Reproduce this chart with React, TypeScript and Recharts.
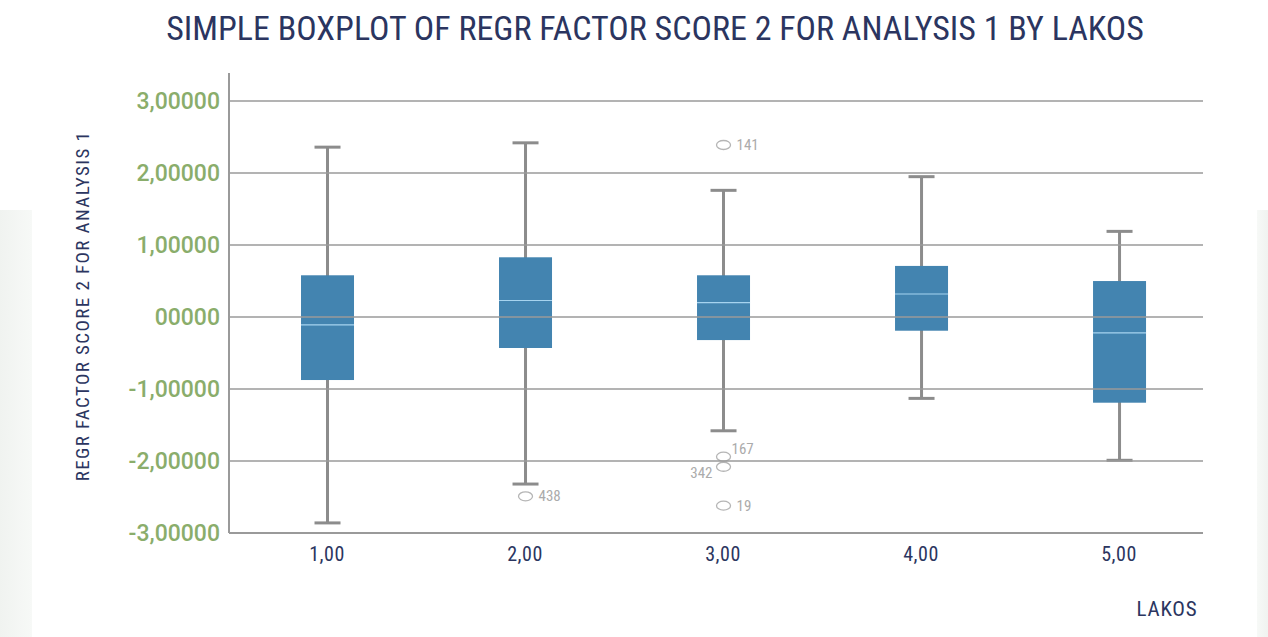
import { ComposedChart, Bar, XAxis, YAxis, ReferenceLine } from 'recharts';

const lakos = [1, 2, 3, 4, 5];
const whiskerLow = [-2.86, -2.32, -1.58, -1.13, -1.99];
const lowerQuartile = [-0.875, -0.43, -0.32, -0.19, -1.19];
const medians = [-0.11, 0.23, 0.2, 0.32, -0.22];
const upperQuartile = [0.58, 0.83, 0.58, 0.71, 0.5];
const whiskerHigh = [2.36, 2.42, 1.76, 1.95, 1.19];

// outliers: category index, value, case id, label placement
const outlierCat = [1, 2, 2, 2, 2];
const outlierValues = [-2.49, 2.39, -1.94, -2.08, -2.62];
const outlierIds = ['438', '141', '167', '342', '19'];
const outlierPlace = ['right', 'right', 'upRight', 'downLeft', 'right'];

const yTicks = [-3, -2, -1, 0, 1, 2, 3];

const FONT = "'Roboto Condensed', 'Liberation Sans Narrow', 'DejaVu Sans Condensed', Roboto, sans-serif";
const TICK_FONT = "Roboto, 'Open Sans', sans-serif";
const NAVY = '#2b3560';
const GRID = '#9a9a9a';

const data = lakos.map((x, i) => ({
  x,
  range: [whiskerLow[i], whiskerHigh[i]],
  low: whiskerLow[i],
  q1: lowerQuartile[i],
  med: medians[i],
  q3: upperQuartile[i],
  high: whiskerHigh[i],
  outliers: outlierValues
    .map((v, j) => ({ v, id: outlierIds[j], place: outlierPlace[j], c: outlierCat[j] }))
    .filter((o) => o.c === i),
}));

// draws the whole box from the range bar geometry
const BoxShape = (props: any) => {
  const { x, y, width, height, payload } = props;
  const ppu = height / (payload.high - payload.low);
  const toY = (v: number) => y + (payload.high - v) * ppu;
  const cx = x + width / 2;
  const boxW = 53;
  const capW = 26;
  return (
    <g>
      <line x1={cx} x2={cx} y1={toY(payload.high)} y2={toY(payload.low)} stroke="#8c8c8c" strokeWidth={3} />
      <line x1={cx - capW / 2} x2={cx + capW / 2} y1={toY(payload.high)} y2={toY(payload.high)} stroke="#8c8c8c" strokeWidth={3} />
      <line x1={cx - capW / 2} x2={cx + capW / 2} y1={toY(payload.low)} y2={toY(payload.low)} stroke="#8c8c8c" strokeWidth={3} />
      <rect x={cx - boxW / 2} y={toY(payload.q3)} width={boxW} height={toY(payload.q1) - toY(payload.q3)} fill="#4384b0" />
      <line x1={cx - boxW / 2} x2={cx + boxW / 2} y1={toY(payload.med)} y2={toY(payload.med)} stroke="#a6d3ef" strokeWidth={1.2} />
      {payload.outliers.map((o: any) => {
        const oy = toY(o.v);
        let tx = cx + 13;
        let ty = oy + 5;
        let anchor = 'start';
        if (o.place === 'upRight') { tx = cx + 8; ty = oy - 3; }
        if (o.place === 'downLeft') { tx = cx - 11; ty = oy + 11; anchor = 'end'; }
        return (
          <g key={o.id}>
            <ellipse cx={cx} cy={oy} rx={7} ry={4.5} fill="#fff" stroke="#b5b5b5" strokeWidth={1.3} />
            <text x={tx} y={ty} textAnchor={anchor} fontSize={15} fill="#ababab" fontFamily={FONT}>
              {o.id}
            </text>
          </g>
        );
      })}
    </g>
  );
};

const fmtY = (v: number) => (v === 0 ? '00000' : v.toFixed(5).replace('.', ','));
const fmtX = (v: number) => v.toFixed(2).replace('.', ',');

export default function App() {
  return (
    <div style={{ position: 'absolute', left: 0, top: 0, width: 1268, height: 637, background: '#fff', overflow: 'hidden', fontFamily: FONT }}>
      <div style={{ position: 'absolute', left: 0, top: 210, width: 32, height: 427, background: 'linear-gradient(to right, #f0f3f0, #f7f9f7)' }} />
      <div style={{ position: 'absolute', left: 1257, top: 210, width: 11, height: 427, background: 'linear-gradient(to right, #f7f9f7, #f0f3f0)' }} />
      <div style={{ position: 'absolute', left: 0, top: 8, width: 1310, textAlign: 'center', fontSize: 34, color: NAVY, whiteSpace: 'nowrap' }}>
        SIMPLE BOXPLOT OF REGR FACTOR SCORE 2 FOR ANALYSIS 1 BY LAKOS
      </div>
      <div
        style={{
          position: 'absolute', left: 82, top: 306, fontSize: 19, letterSpacing: 1.4, color: NAVY, whiteSpace: 'nowrap',
          transform: 'translate(-50%, -50%) rotate(-90deg)',
        }}
      >
        REGR FACTOR SCORE 2 FOR ANALYSIS 1
      </div>
      <div style={{ position: 'absolute', left: 1167, top: 609, fontSize: 21, letterSpacing: 0.8, color: NAVY, transform: 'translate(-50%, -50%)' }}>
        LAKOS
      </div>
      <div style={{ position: 'absolute', left: 0, top: 0 }}>
        <ComposedChart width={1268} height={637} data={data} margin={{ top: 73, right: 65, bottom: 74, left: 0 }}>
          {yTicks.map((t) => (
            <ReferenceLine key={t} y={t} stroke={GRID} strokeWidth={1.5} ifOverflow="extendDomain" />
          ))}
          <XAxis
            dataKey="x"
            type="number"
            domain={[0.505, 5.424]}
            ticks={lakos}
            allowDataOverflow
            tickFormatter={fmtX}
            height={30}
            axisLine={{ stroke: GRID, strokeWidth: 2 }}
            tickLine={false}
            tick={{ fill: NAVY, fontSize: 20, fontFamily: FONT, letterSpacing: 0.5 }}
            tickMargin={8}
          />
          <YAxis
            width={229}
            domain={[-3, 3.39]}
            ticks={yTicks}
            allowDataOverflow
            tickFormatter={fmtY}
            axisLine={{ stroke: GRID, strokeWidth: 2 }}
            tickLine={false}
            tick={{ fill: '#8aad6b', fontSize: 23, fontFamily: TICK_FONT, fontWeight: 500 }}
            tickMargin={3}
          />
          <Bar dataKey="range" barSize={53} shape={<BoxShape />} isAnimationActive={false} />
        </ComposedChart>
      </div>
    </div>
  );
}
